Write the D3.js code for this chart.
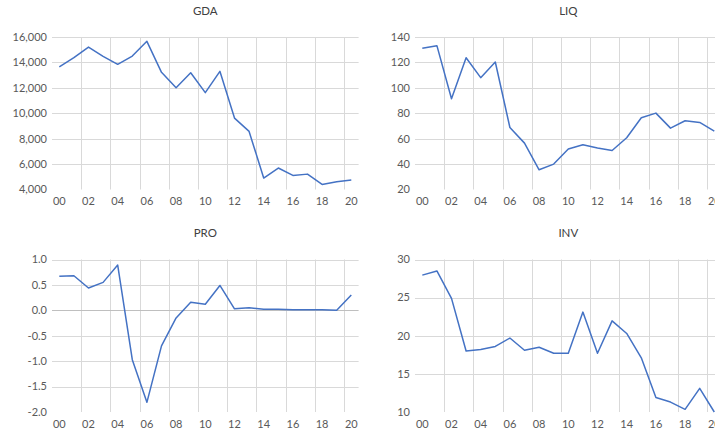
<!DOCTYPE html>
<html>
<head>
<meta charset="utf-8">
<script src="https://cdn.jsdelivr.net/npm/d3@7"></script>
<style>
  body { margin: 0; background: #fff; overflow: hidden; }
  svg { display: block; font-family: Lato, "Open Sans", sans-serif; }
  .tick-label { font-size: 11px; fill: #595959; }
  .title { font-size: 11.5px; fill: #404040; }
</style>
</head>
<body>
<svg width="715" height="434"></svg>
<script>
// years 2000..2020, labelled every second year
var years = ["00","01","02","03","04","05","06","07","08","09","10","11","12","13","14","15","16","17","18","19","20"];
var gda = [13650, 14370, 15210, 14480, 13850, 14500, 15660, 13220, 12010, 13190, 11620, 13300, 9620, 8570, 4900, 5690, 5110, 5210, 4400, 4610, 4740];
var liq = [131.1, 133.2, 91.4, 123.7, 108.0, 120.3, 68.8, 56.5, 35.5, 40.0, 51.8, 55.2, 52.6, 50.7, 60.7, 76.5, 80.1, 68.3, 74.1, 72.8, 66.0];
var pro = [0.67, 0.68, 0.44, 0.55, 0.89, -0.97, -1.81, -0.70, -0.15, 0.16, 0.12, 0.49, 0.03, 0.05, 0.02, 0.02, 0.01, 0.01, 0.01, 0.0, 0.30];
var inv = [27.95, 28.5, 24.9, 18.0, 18.2, 18.6, 19.7, 18.1, 18.5, 17.7, 17.7, 23.1, 17.7, 21.95, 20.3, 17.1, 11.9, 11.3, 10.35, 13.1, 10.0];

var gdaTicks = [4000, 6000, 8000, 10000, 12000, 14000, 16000];
var liqTicks = [20, 40, 60, 80, 100, 120, 140];
var proTicks = [-2.0, -1.5, -1.0, -0.5, 0.0, 0.5, 1.0];
var invTicks = [10, 15, 20, 25, 30];

var svg = d3.select("svg");
var plotW = 306.6, plotH = 152.5;

var panels = [
    {title: "GDA", data: gda, ticks: gdaTicks, fmt: d3.format(","), left: 52, top: 37, titleY: 11},
    {title: "LIQ", data: liq, ticks: liqTicks, fmt: d3.format("d"), left: 415, top: 37, titleY: 11},
    {title: "PRO", data: pro, ticks: proTicks, fmt: function(d){ return d3.format(".1f")(d).replace("−", "-"); }, left: 52, top: 259.5, titleY: 233, zero: true},
    {title: "INV", data: inv, ticks: invTicks, fmt: d3.format("d"), left: 415, top: 259.5, titleY: 233}
];

panels.forEach(function(p) {
    var x = d3.scaleLinear()
        .domain([0, years.length])
        .range([p.left, p.left + plotW]);
    var y = d3.scaleLinear()
        .domain(d3.extent(p.ticks))
        .range([p.top + plotH, p.top]);

    var g = svg.append("g");

    // title
    g.append("text")
        .attr("class", "title")
        .attr("x", p.left + plotW / 2)
        .attr("y", p.titleY)
        .attr("text-anchor", "middle")
        .attr("dy", "0.35em")
        .text(p.title);

    // horizontal gridlines (none on the bottom edge)
    g.selectAll("line.hgrid")
        .data(p.ticks.filter(function(t){ return t != d3.min(p.ticks) && !(p.zero && t == 0); }))
        .enter().append("line")
        .attr("class", "hgrid")
        .attr("x1", p.left).attr("x2", p.left + plotW)
        .attr("y1", function(d){ return Math.round(y(d)) + 0.5; })
        .attr("y2", function(d){ return Math.round(y(d)) + 0.5; })
        .attr("stroke", "#d9d9d9").attr("stroke-width", 1);

    // vertical gridlines every second category boundary
    var vgrid = d3.range(2, years.length, 2);
    g.selectAll("line.vgrid")
        .data(vgrid)
        .enter().append("line")
        .attr("class", "vgrid")
        .attr("x1", function(d){ return Math.round(x(d)) + 0.5; })
        .attr("x2", function(d){ return Math.round(x(d)) + 0.5; })
        .attr("y1", p.top).attr("y2", p.top + plotH)
        .attr("stroke", "#d9d9d9").attr("stroke-width", 1);

    if (p.zero) {
        g.append("line")
            .attr("x1", p.left).attr("x2", p.left + plotW)
            .attr("y1", Math.round(y(0)) + 0.5).attr("y2", Math.round(y(0)) + 0.5)
            .attr("stroke", "#bfbfbf").attr("stroke-width", 1);
    }

    // y tick labels
    g.selectAll("text.ylab")
        .data(p.ticks)
        .enter().append("text")
        .attr("class", "tick-label")
        .attr("x", p.left - 5)
        .attr("y", function(d){ return y(d); })
        .attr("dy", "0.35em")
        .attr("text-anchor", "end")
        .text(p.fmt);

    // x tick labels
    g.selectAll("text.xlab")
        .data(years.filter(function(d, i){ return i % 2 == 0; }))
        .enter().append("text")
        .attr("class", "tick-label")
        .attr("x", function(d){ return x(years.indexOf(d) + 0.5); })
        .attr("y", p.top + plotH + 12)
        .attr("dy", "0.35em")
        .attr("text-anchor", "middle")
        .text(function(d){ return d; });

    // series line
    var line = d3.line()
        .x(function(d, i){ return x(i + 0.5); })
        .y(function(d){ return y(d); });
    g.append("path")
        .datum(p.data)
        .attr("d", line)
        .attr("fill", "none")
        .attr("stroke", "#4472c4")
        .attr("stroke-width", 1.5)
        .attr("stroke-linejoin", "round");
});
</script>
</body>
</html>
